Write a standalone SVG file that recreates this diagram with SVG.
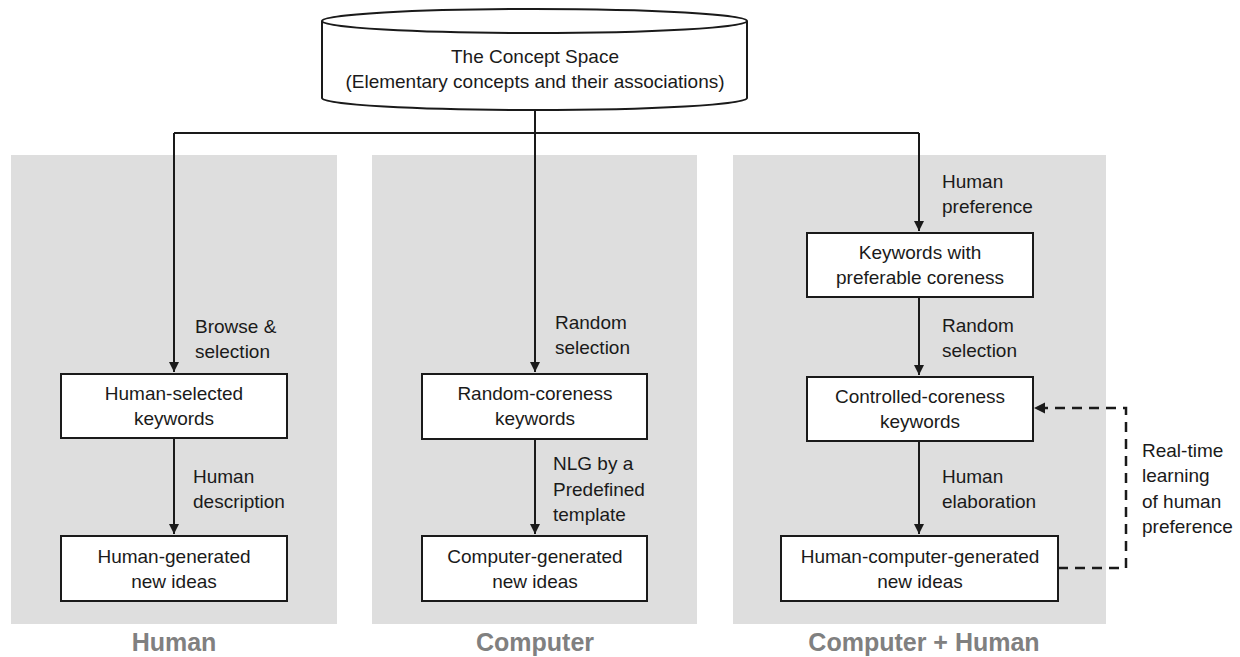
<svg xmlns="http://www.w3.org/2000/svg" width="1240" height="657" viewBox="0 0 1240 657">
<style>
.panel{fill:#dedede;stroke:none}
.box{fill:#fff;stroke:#1a1a1a;stroke-width:2}
.t{font-family:"Liberation Sans",Arial,sans-serif;font-size:19px;fill:#1a1a1a}
.c{text-anchor:middle}
.title{font-family:"Liberation Sans",Arial,sans-serif;font-size:25px;font-weight:bold;fill:#808080;text-anchor:middle}
.ln{fill:none;stroke:#1a1a1a;stroke-width:2}
.dash{fill:none;stroke:#1a1a1a;stroke-width:2.5;stroke-dasharray:10,7}
</style>
<defs>
<marker id="ah" viewBox="0 0 10 10" refX="10" refY="5" markerWidth="5" markerHeight="5" orient="auto" markerUnits="strokeWidth">
<path d="M0,0 L10,5 L0,10 z" fill="#1a1a1a"/>
</marker>
</defs>
<rect id="panel-human" class="panel" x="11" y="155" width="326" height="469"/>
<rect id="panel-computer" class="panel" x="372" y="155" width="325" height="469"/>
<rect id="panel-both" class="panel" x="733" y="155" width="373" height="469"/>
<g id="concept-space">
<path class="box" d="M322,21 L322,98 A212.5,12 0 0 0 747,98 L747,21"/>
<ellipse class="box" cx="534.5" cy="21" rx="212.5" ry="12"/>
<text class="t c" x="535" y="63">The Concept Space</text>
<text class="t c" x="535" y="88">(Elementary concepts and their associations)</text>
</g>
<g id="connectors">
<path class="ln" d="M535,110 L535,372" marker-end="url(#ah)"/>
<path class="ln" d="M174,133 L919,133"/>
<path class="ln" d="M174,133 L174,372" marker-end="url(#ah)"/>
<path class="ln" d="M919,133 L919,231" marker-end="url(#ah)"/>
<path class="ln" d="M174,438 L174,534" marker-end="url(#ah)"/>
<path class="ln" d="M535,439 L535,534" marker-end="url(#ah)"/>
<path class="ln" d="M919,297 L919,375" marker-end="url(#ah)"/>
<path class="ln" d="M919,441 L919,534" marker-end="url(#ah)"/>
<path class="dash" d="M1058,568 L1126,568 L1126,408 L1036,408"/>
<path d="M1034,408 L1045,402.5 L1045,413.5 z" fill="#1a1a1a"/>
<text class="t" x="195" y="333">Browse &amp;</text>
<text class="t" x="195" y="358">selection</text>
<text class="t" x="193" y="483">Human</text>
<text class="t" x="193" y="508">description</text>
<text class="t" x="555" y="329">Random</text>
<text class="t" x="555" y="354">selection</text>
<text class="t" x="553" y="470">NLG by a</text>
<text class="t" x="553" y="496">Predefined</text>
<text class="t" x="553" y="521">template</text>
<text class="t" x="942" y="188">Human</text>
<text class="t" x="942" y="213">preference</text>
<text class="t" x="942" y="332">Random</text>
<text class="t" x="942" y="357">selection</text>
<text class="t" x="942" y="483">Human</text>
<text class="t" x="942" y="508">elaboration</text>
<text class="t" x="1142" y="457">Real-time</text>
<text class="t" x="1142" y="482">learning</text>
<text class="t" x="1142" y="508">of human</text>
<text class="t" x="1142" y="533">preference</text>
</g>
<g id="human-selected">
<rect class="box" x="61" y="374" width="226" height="64"/>
<text class="t c" x="174" y="400">Human-selected</text>
<text class="t c" x="174" y="425">keywords</text>
</g>
<g id="human-generated">
<rect class="box" x="61" y="536" width="226" height="65"/>
<text class="t c" x="174" y="563">Human-generated</text>
<text class="t c" x="174" y="588">new ideas</text>
</g>
<g id="random-coreness">
<rect class="box" x="422" y="374" width="225" height="65"/>
<text class="t c" x="535" y="400">Random-coreness</text>
<text class="t c" x="535" y="425">keywords</text>
</g>
<g id="computer-generated">
<rect class="box" x="422" y="536" width="225" height="65"/>
<text class="t c" x="535" y="563">Computer-generated</text>
<text class="t c" x="535" y="588">new ideas</text>
</g>
<g id="preferable-coreness">
<rect class="box" x="807" y="233" width="226" height="64"/>
<text class="t c" x="920" y="259">Keywords with</text>
<text class="t c" x="920" y="284">preferable coreness</text>
</g>
<g id="controlled-coreness">
<rect class="box" x="807" y="377" width="226" height="64"/>
<text class="t c" x="920" y="403">Controlled-coreness</text>
<text class="t c" x="920" y="428">keywords</text>
</g>
<g id="hc-generated">
<rect class="box" x="781" y="536" width="277" height="65"/>
<text class="t c" x="920" y="563">Human-computer-generated</text>
<text class="t c" x="920" y="588">new ideas</text>
</g>
<text class="title" x="174" y="651">Human</text>
<text class="title" x="535" y="651">Computer</text>
<text class="title" x="924" y="651">Computer + Human</text>
</svg>
